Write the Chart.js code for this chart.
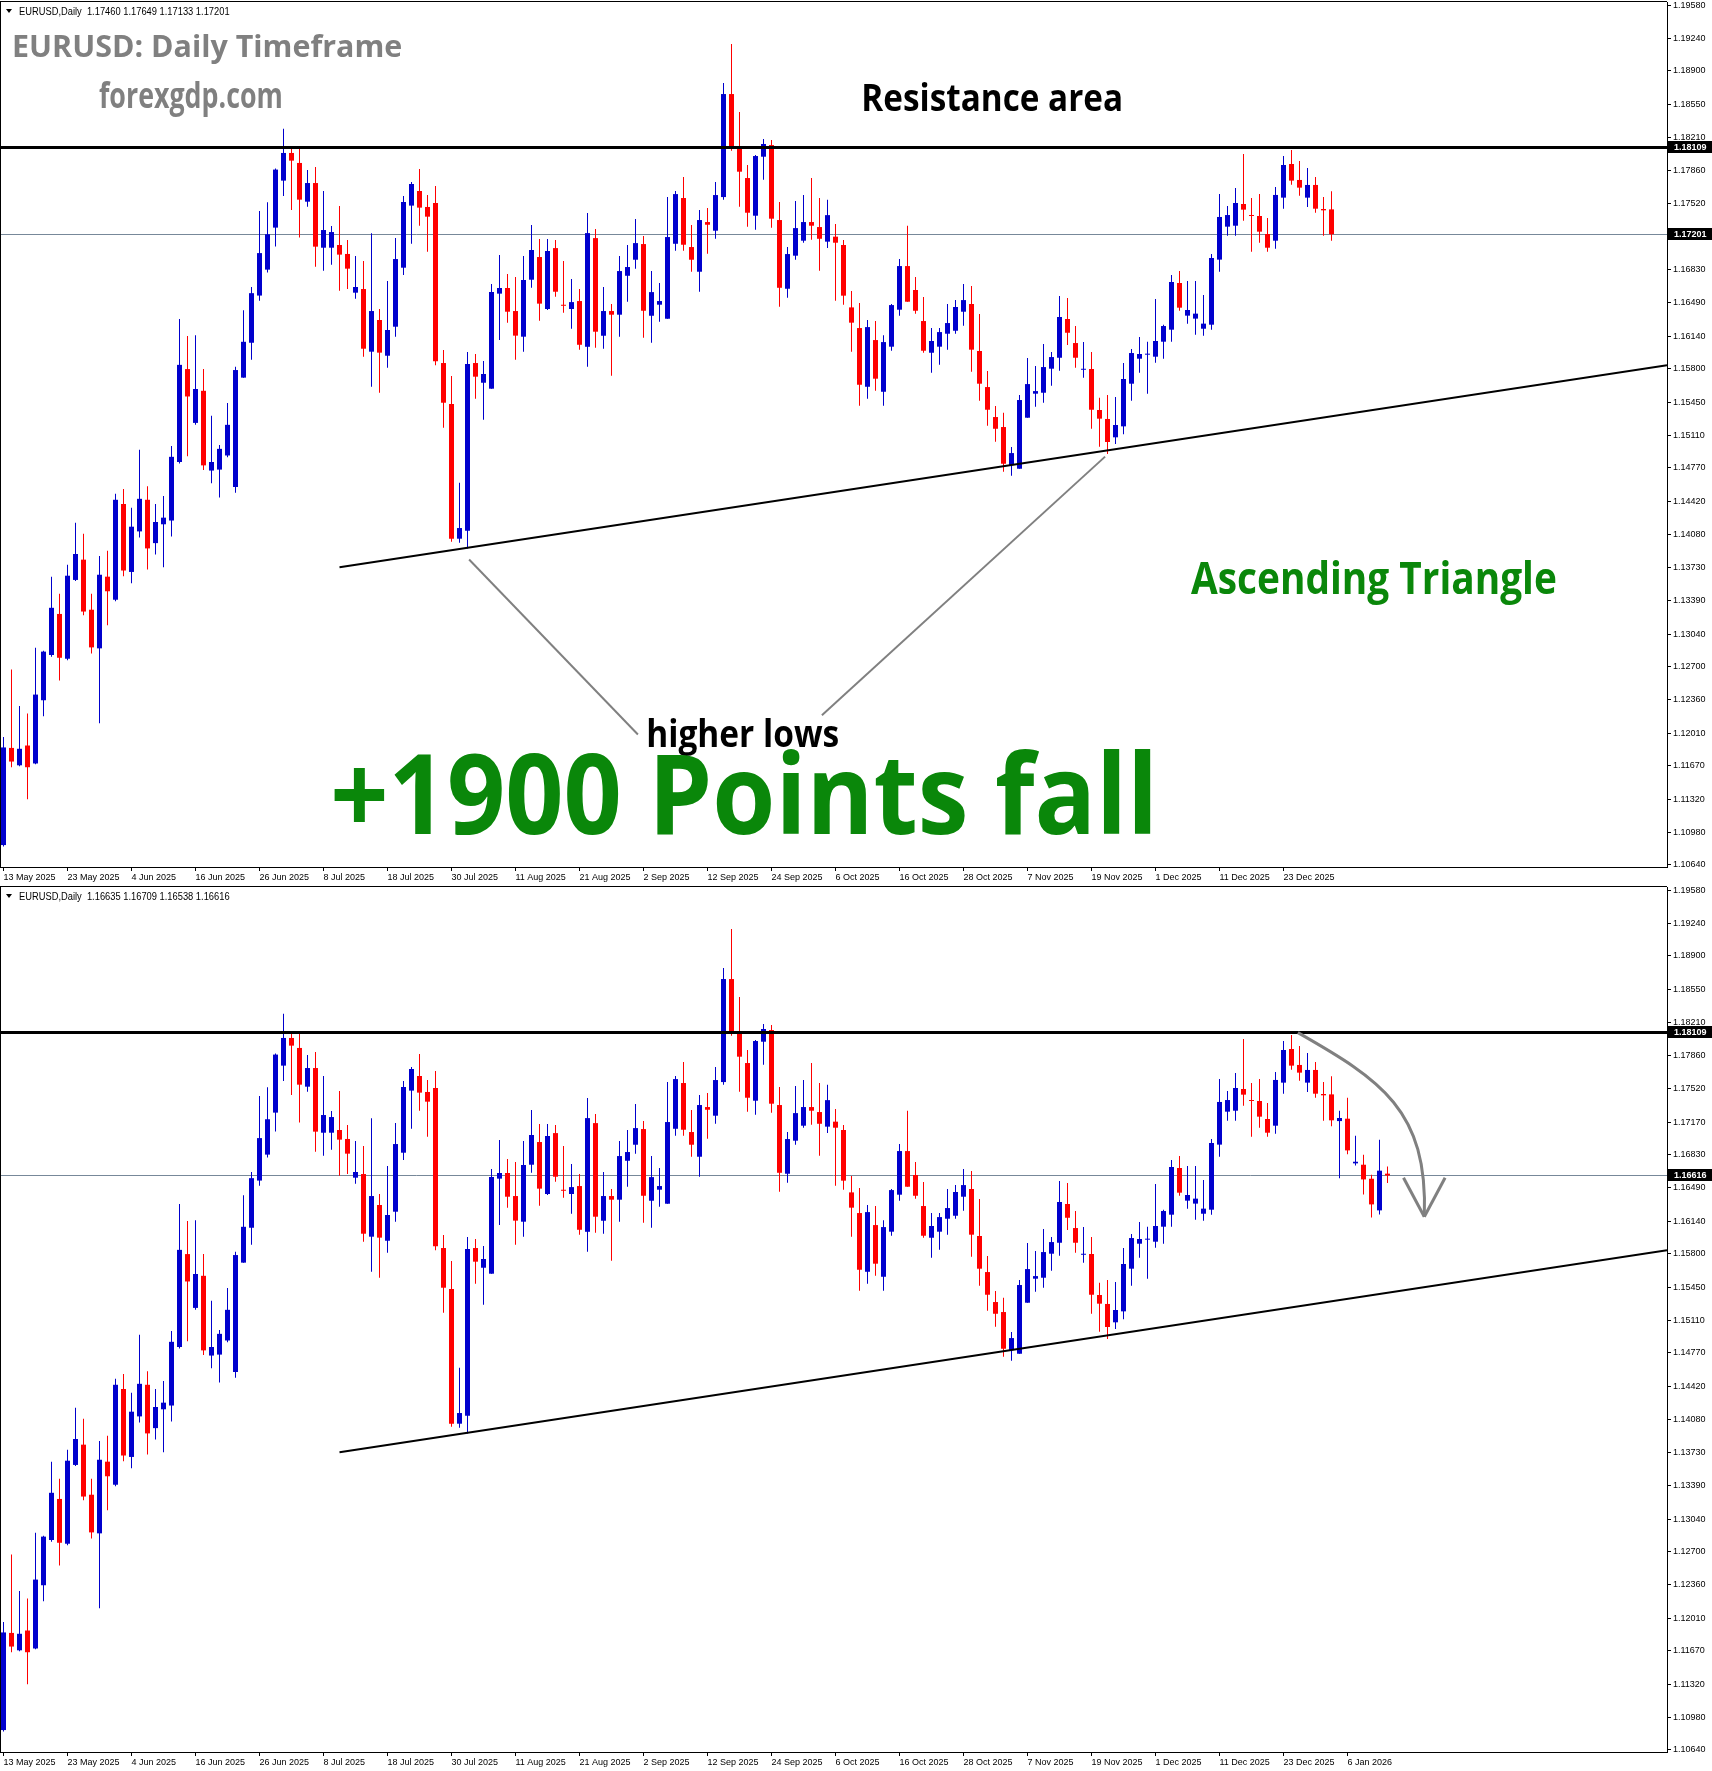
<!DOCTYPE html>
<html lang="en">
<head>
<meta charset="utf-8">
<title>EURUSD Daily – Ascending Triangle</title>
<script src="https://cdn.jsdelivr.net/npm/chart.js@4.4.1/dist/chart.umd.min.js"></script>
<style>
  html, body { margin: 0; padding: 0; background: #fff; }
  #page { position: relative; width: 1712px; height: 1771px; overflow: hidden; background: #fff; }
  #page canvas { position: absolute; left: 0; }
  #topCanvas { top: 0; }
  #botCanvas { top: 885px; }
</style>
</head>
<body>
<div id="page">
  <canvas id="topCanvas" width="1712" height="885"></canvas>
  <canvas id="botCanvas" width="1712" height="886"></canvas>
</div>
<script>
/* global Chart */

// ---------- DATA ----------
// date printed under every 8th daily bar (MT4 style), bar 0 = 13 May 2025
const TICK_LABELS = ['13 May 2025', '23 May 2025', '4 Jun 2025', '16 Jun 2025', '26 Jun 2025',
  '8 Jul 2025', '18 Jul 2025', '30 Jul 2025', '11 Aug 2025', '21 Aug 2025', '2 Sep 2025',
  '12 Sep 2025', '24 Sep 2025', '6 Oct 2025', '16 Oct 2025', '28 Oct 2025', '7 Nov 2025',
  '19 Nov 2025', '1 Dec 2025', '11 Dec 2025', '23 Dec 2025', '6 Jan 2026'];
const LABEL_STEP = 8;

const PRICE_TICKS = [1.19580, 1.19240, 1.18900, 1.18550, 1.18210, 1.17860, 1.17520, 1.17170,
  1.16830, 1.16490, 1.16140, 1.15800, 1.15450, 1.15110, 1.14770, 1.14420, 1.14080, 1.13730,
  1.13390, 1.13040, 1.12700, 1.12360, 1.12010, 1.11670, 1.11320, 1.10980, 1.10640];

// daily bars as of the second screenshot (bars 0 … 173)
const OPEN = [
  1.10845, 1.11856, 1.11675, 1.11881, 1.11694, 1.12352, 1.12823, 1.13250, 1.12784, 1.13604,
  1.13815, 1.13294, 1.12892, 1.13638, 1.13398, 1.14394, 1.13687, 1.14109, 1.14438, 1.13987,
  1.14183, 1.14222, 1.14831, 1.15798, 1.15238, 1.15572, 1.14742, 1.14752, 1.14899, 1.14571,
  1.15709, 1.16072, 1.16563, 1.16833, 1.17270, 1.17759, 1.18047, 1.17943, 1.17540, 1.17734,
  1.17061, 1.17061, 1.17089, 1.16996, 1.16593, 1.16631, 1.15979, 1.16309, 1.15937, 1.16239,
  1.16853, 1.17499, 1.17651, 1.17485, 1.17526, 1.15861, 1.15434, 1.14033, 1.14116, 1.15861,
  1.15656, 1.15594, 1.16583, 1.16642, 1.16402, 1.16135, 1.16728, 1.16964, 1.16423, 1.17057,
  1.16464, 1.16423, 1.16506, 1.16030, 1.17161, 1.16145, 1.16402, 1.16364, 1.16769, 1.16936,
  1.17099, 1.16353, 1.16468, 1.16322, 1.17102, 1.17578, 1.17068, 1.16811, 1.17328, 1.17238,
  1.17588, 1.18660, 1.18088, 1.17786, 1.17394, 1.18008, 1.18129, 1.17349, 1.16634, 1.16978,
  1.17134, 1.17328, 1.17276, 1.17124, 1.17176, 1.17089, 1.16440, 1.16225, 1.15614, 1.16100,
  1.15562, 1.16031, 1.16416, 1.16870, 1.16621, 1.16298, 1.15968, 1.16031, 1.16166, 1.16197,
  1.16395, 1.16475, 1.15986, 1.15611, 1.15299, 1.15195, 1.14799, 1.14761, 1.15292, 1.15542,
  1.15552, 1.15802, 1.15916, 1.16319, 1.16069, 1.15791, 1.15799, 1.15372, 1.15279, 1.15088,
  1.15202, 1.15646, 1.15906, 1.15948, 1.15927, 1.16083, 1.16208, 1.16694, 1.16354, 1.16323,
  1.16218, 1.16260, 1.16937, 1.17280, 1.17290, 1.17516, 1.17401, 1.17391, 1.17204, 1.17134,
  1.17582, 1.17932, 1.17766, 1.17582, 1.17714, 1.17464, 1.17460, 1.17182, 1.17207, 1.16742,
  1.16728, 1.16582, 1.16253, 1.16635];
const HIGH = [
  1.11969, 1.12671, 1.12293, 1.12215, 1.12897, 1.12868, 1.13638, 1.13461, 1.13761, 1.14198,
  1.14085, 1.13461, 1.13854, 1.13908, 1.14502, 1.14551, 1.14355, 1.14958, 1.14580, 1.14394,
  1.14477, 1.14998, 1.16318, 1.16141, 1.16151, 1.15798, 1.15312, 1.15007, 1.15444, 1.15822,
  1.16411, 1.16652, 1.17442, 1.17535, 1.17884, 1.18300, 1.18095, 1.18095, 1.17870, 1.17901,
  1.17651, 1.17287, 1.17495, 1.17141, 1.16975, 1.16923, 1.17211, 1.16423, 1.16715, 1.17162,
  1.17599, 1.17745, 1.17880, 1.17610, 1.17703, 1.15996, 1.15726, 1.14616, 1.15976, 1.15955,
  1.15882, 1.16683, 1.16985, 1.16787, 1.16756, 1.16975, 1.17297, 1.17152, 1.17152, 1.17141,
  1.16922, 1.16735, 1.16631, 1.17422, 1.17255, 1.16651, 1.16475, 1.16974, 1.17089, 1.17359,
  1.17182, 1.16818, 1.16693, 1.17588, 1.17651, 1.17796, 1.17297, 1.17453, 1.17474, 1.17744,
  1.18774, 1.19180, 1.18473, 1.17921, 1.18025, 1.18192, 1.18181, 1.17536, 1.17068, 1.17546,
  1.17609, 1.17786, 1.17578, 1.17560, 1.17307, 1.17141, 1.16610, 1.16485, 1.16308, 1.16298,
  1.16149, 1.16475, 1.16943, 1.17290, 1.16756, 1.16548, 1.16225, 1.16225, 1.16475, 1.16516,
  1.16683, 1.16662, 1.16371, 1.15778, 1.15413, 1.15344, 1.14987, 1.15528, 1.15913, 1.15830,
  1.16059, 1.15975, 1.16558, 1.16537, 1.16246, 1.16079, 1.15976, 1.15500, 1.15528, 1.15507,
  1.15861, 1.16007, 1.16132, 1.16083, 1.16527, 1.16260, 1.16777, 1.16819, 1.16715, 1.16715,
  1.16569, 1.16996, 1.17620, 1.17495, 1.17682, 1.18036, 1.17578, 1.17620, 1.17370, 1.17693,
  1.18015, 1.18078, 1.17963, 1.17891, 1.17797, 1.17589, 1.17649, 1.17290, 1.17425, 1.17030,
  1.16832, 1.16624, 1.16988, 1.16709];
const LOW = [
  1.10831, 1.11655, 1.11665, 1.11321, 1.11685, 1.12185, 1.12804, 1.12558, 1.12769, 1.13594,
  1.13236, 1.12838, 1.12112, 1.13133, 1.13383, 1.13643, 1.13569, 1.14045, 1.13712, 1.13869,
  1.13736, 1.14055, 1.14816, 1.14890, 1.15218, 1.14747, 1.14610, 1.14463, 1.14880, 1.14512,
  1.15709, 1.15896, 1.16509, 1.16804, 1.17074, 1.17599, 1.17453, 1.17166, 1.17488, 1.16864,
  1.16822, 1.16885, 1.16614, 1.16631, 1.16531, 1.15927, 1.15615, 1.15552, 1.15813, 1.16135,
  1.16777, 1.17103, 1.17290, 1.17020, 1.15837, 1.15188, 1.14002, 1.13991, 1.13932, 1.15490,
  1.15271, 1.15594, 1.16101, 1.16281, 1.15896, 1.15979, 1.16645, 1.16302, 1.16413, 1.16551,
  1.16384, 1.16218, 1.15999, 1.15822, 1.16020, 1.16010, 1.15729, 1.16135, 1.16499, 1.16842,
  1.16124, 1.16072, 1.16291, 1.16322, 1.17030, 1.17030, 1.16811, 1.16603, 1.16998, 1.17154,
  1.17560, 1.18070, 1.17487, 1.17279, 1.17248, 1.17768, 1.17269, 1.16447, 1.16540, 1.16936,
  1.17113, 1.17144, 1.16821, 1.17058, 1.16510, 1.16468, 1.15979, 1.15417, 1.15490, 1.15573,
  1.15417, 1.15989, 1.16353, 1.16499, 1.16374, 1.15968, 1.15760, 1.15843, 1.16000, 1.16166,
  1.16249, 1.15771, 1.15469, 1.15209, 1.15042, 1.14730, 1.14688, 1.14761, 1.15292, 1.15406,
  1.15448, 1.15625, 1.15781, 1.16048, 1.15812, 1.15708, 1.15178, 1.14990, 1.14914, 1.15018,
  1.15119, 1.15469, 1.15761, 1.15542, 1.15865, 1.15906, 1.16083, 1.16406, 1.16271, 1.16156,
  1.16146, 1.16208, 1.16812, 1.17186, 1.17186, 1.17342, 1.17020, 1.17113, 1.17020, 1.17051,
  1.17467, 1.17717, 1.17603, 1.17485, 1.17426, 1.17186, 1.17127, 1.16586, 1.16836, 1.16721,
  1.16419, 1.16180, 1.16211, 1.16538];
const CLOSE = [
  1.11861, 1.11714, 1.11847, 1.11655, 1.12411, 1.12858, 1.13314, 1.12794, 1.13648, 1.13874,
  1.13275, 1.12902, 1.13658, 1.13486, 1.14438, 1.13702, 1.14158, 1.14448, 1.13932, 1.14207,
  1.14252, 1.14885, 1.15842, 1.15513, 1.15591, 1.14796, 1.14831, 1.14968, 1.15218, 1.15788,
  1.16082, 1.16588, 1.17005, 1.17201, 1.17874, 1.18047, 1.17967, 1.17561, 1.17734, 1.17072,
  1.17245, 1.17224, 1.16989, 1.16843, 1.16652, 1.16010, 1.16402, 1.15969, 1.16205, 1.16943,
  1.17537, 1.17724, 1.17478, 1.17384, 1.15879, 1.15448, 1.14033, 1.14144, 1.15851, 1.15719,
  1.15747, 1.16600, 1.16642, 1.16395, 1.16146, 1.16725, 1.17037, 1.16479, 1.17027, 1.16603,
  1.16457, 1.16495, 1.16051, 1.17213, 1.16187, 1.16402, 1.16364, 1.16818, 1.16860, 1.17109,
  1.16405, 1.16599, 1.16506, 1.17172, 1.17619, 1.17092, 1.16936, 1.17349, 1.17300, 1.17609,
  1.18660, 1.18119, 1.17852, 1.17425, 1.18015, 1.18140, 1.17363, 1.16644, 1.16995, 1.17265,
  1.17328, 1.17290, 1.17154, 1.17400, 1.17113, 1.16562, 1.16281, 1.15635, 1.16235, 1.15698,
  1.16079, 1.16464, 1.16870, 1.16499, 1.16405, 1.15989, 1.16090, 1.16183, 1.16277, 1.16444,
  1.16516, 1.16000, 1.15646, 1.15375, 1.15177, 1.14813, 1.14924, 1.15476, 1.15642, 1.15569,
  1.15819, 1.15923, 1.16340, 1.16176, 1.15916, 1.15798, 1.15375, 1.15282, 1.15039, 1.15216,
  1.15695, 1.15965, 1.15955, 1.15955, 1.16090, 1.16246, 1.16704, 1.16437, 1.16413, 1.16375,
  1.16271, 1.16954, 1.17381, 1.17401, 1.17526, 1.17457, 1.17391, 1.17228, 1.17061, 1.17610,
  1.17922, 1.17759, 1.17686, 1.17714, 1.17467, 1.17450, 1.17190, 1.17214, 1.16877, 1.16759,
  1.16575, 1.16315, 1.16666, 1.16616];

// first screenshot ends at bar 166, which was still forming then (O H L C)
const TOP_BAR_COUNT = 166;
const TOP_LAST_OHLC = [1.17460, 1.17649, 1.17133, 1.17201];

// drawn objects, anchored as [bar, price]
const RESISTANCE = 1.18109;
const TREND_A = [42, 1.13735];
const TREND_B = [125, 1.14787];
const HL_LEFT  = [[58.2, 1.13817], [79.3, 1.11996]];
const HL_RIGHT = [[102.3, 1.12196], [137.7, 1.14887]];
const FALL_CURVE = [[161.8, 1.18102], [172.1, 1.17613], [178.1, 1.17300], [177.6, 1.16187]];
const FALL_WINGS = [[175.0, 1.16593], [180.2, 1.16593]];

// ---------- STYLE ----------
const BULL = '#0000cd';
const BEAR = '#ff0000';
const BID_COLOR = '#778899';
const GREEN = '#0a870a';
const TEXT_FONT = '"Open Sans", "DejaVu Sans", sans-serif';
const AXIS_FONT = { family: '"Liberation Sans", Arial, sans-serif', size: 9 };

// 8 px per bar, bar 0 centred at x = 3.5 ; chart area 0 … 1667
const X_MIN = -3.5 / 8;
const X_MAX = X_MIN + 1667 / 8;
// 9610 px per 1.0 price, 1.18109 sits at y = 147 ; chart area 2 … 867
const Y_MAX = 1.18109 + 145 / 9610;
const Y_MIN = Y_MAX - 865 / 9610;

// ---------- helpers ----------
const pt = (chart, [i, p]) => [chart.scales.x.getPixelForValue(i), chart.scales.y.getPixelForValue(p)];

function strokeLine (ctx, a, b, width, color) {
  ctx.save();
  ctx.strokeStyle = color;
  ctx.lineWidth = width;
  ctx.beginPath();
  ctx.moveTo(a[0], a[1]);
  ctx.lineTo(b[0], b[1]);
  ctx.stroke();
  ctx.restore();
}

// text whose ink spans box.left … box.right (font size gives height)
function inkText (ctx, text, box, size, weight, color, family = TEXT_FONT) {
  ctx.save();
  ctx.font = `${weight} ${size}px ${family}`;
  const m = ctx.measureText(text);
  const ink = m.actualBoundingBoxLeft + m.actualBoundingBoxRight;
  ctx.translate(box.left, box.baseline);
  ctx.scale((box.right - box.left) / ink, 1);
  ctx.fillStyle = color;
  ctx.textBaseline = 'alphabetic';
  ctx.fillText(text, m.actualBoundingBoxLeft, 0);
  ctx.restore();
}

function priceTag (chart, price) {
  const { ctx, chartArea: a } = chart;
  const y = Math.round(chart.scales.y.getPixelForValue(price));
  ctx.save();
  ctx.fillStyle = '#000';
  ctx.fillRect(a.right + 1, y - 6, chart.width - a.right - 1, 12);
  ctx.fillStyle = '#fff';
  ctx.font = `bold 9px ${AXIS_FONT.family}`;
  ctx.textBaseline = 'middle';
  ctx.fillText(price.toFixed(5), a.right + 7, y + 0.5);
  ctx.restore();
}

function header (ctx, ohlc) {
  ctx.save();
  ctx.fillStyle = '#000';
  ctx.beginPath();
  ctx.moveTo(6, 9); ctx.lineTo(12, 9); ctx.lineTo(9, 13);
  ctx.closePath();
  ctx.fill();
  ctx.restore();
  const txt = 'EURUSD,Daily  ' + ohlc.map(v => v.toFixed(5)).join(' ');
  inkText(ctx, txt, { left: 19, right: 230, baseline: 15 }, 10, 'normal', '#000', AXIS_FONT.family);
}

// ---------- overlay plugin (lines, labels, texts) ----------
function overlay (cfg) {
  return {
    id: 'mt4overlay',
    beforeDatasetsDraw (chart) {
      const { ctx, chartArea: a } = chart;
      const y = Math.round(chart.scales.y.getPixelForValue(cfg.bid)) + 0.5;
      strokeLine(ctx, [a.left, y], [a.right, y], 1, BID_COLOR);
    },
    afterDatasetsDraw (chart) {
      const { ctx, chartArea: a } = chart;
      ctx.save();
      ctx.beginPath();
      ctx.rect(a.left, a.top, a.right - a.left, a.bottom - a.top);
      ctx.clip();

      /* resistance */
      const ry = Math.floor(chart.scales.y.getPixelForValue(RESISTANCE)) + 0.5;
      strokeLine(ctx, [a.left, ry], [a.right, ry], 3, '#000');

      /* ascending trend ray */
      const slope = (TREND_B[1] - TREND_A[1]) / (TREND_B[0] - TREND_A[0]);
      const end = [X_MAX, TREND_A[1] + slope * (X_MAX - TREND_A[0])];
      strokeLine(ctx, pt(chart, TREND_A), pt(chart, end), 2, '#000');

      if (cfg.extras) cfg.extras(chart);
      ctx.restore();
    },
    afterDraw (chart) {
      const { ctx, chartArea: a } = chart;
      ctx.save();
      ctx.fillStyle = '#000';
      ctx.fillRect(0, a.top - 1, a.right, 1);
      ctx.fillRect(0, a.top - 1, 1, a.bottom - a.top + 1);
      ctx.restore();
      header(ctx, cfg.ohlc);
      cfg.tags.forEach(p => priceTag(chart, p));
      if (cfg.texts) cfg.texts(chart);
    }
  };
}

function buildChart (canvasId, bars, tickLabels, cfg) {
  const colors = bars.o.map((o, i) => (bars.c[i] >= o ? BULL : BEAR));
  const wicks  = bars.o.map((_, i) => ({ x: i, y: [bars.l[i], bars.h[i]] }));
  const bodies = bars.o.map((o, i) => ({ x: i, y: [o, bars.c[i]] }));

  return new Chart(document.getElementById(canvasId), {
    type: 'bar',
    data: {
      datasets: [
        { data: bodies, backgroundColor: colors, borderWidth: 0, barThickness: 5,
          grouped: false, order: 1, minBarLength: 1, inflateAmount: 0 },
        { data: wicks, backgroundColor: colors, borderWidth: 0, barThickness: 1,
          grouped: false, order: 2, minBarLength: 1, inflateAmount: 0 }
      ]
    },
    options: {
      responsive: false,
      animation: false,
      devicePixelRatio: 1,
      events: [],
      layout: { padding: { top: 2, left: 0, right: 0, bottom: 0 } },
      plugins: { legend: { display: false }, tooltip: { enabled: false } },
      scales: {
        x: {
          type: 'linear', min: X_MIN, max: X_MAX, offset: false,
          grid: { display: true, offset: false, drawOnChartArea: false, drawTicks: true, tickLength: 4, color: '#000' },
          border: { display: true, color: '#000' },
          ticks: {
            autoSkip: false, maxRotation: 0, minRotation: 0, align: 'start', padding: 1,
            color: '#000', font: AXIS_FONT, callback: (v, i) => tickLabels[i]
          },
          afterBuildTicks: s => { s.ticks = tickLabels.map((_, k) => ({ value: k * LABEL_STEP })); },
          afterFit: s => { s.height = cfg.axisHeight; s.paddingLeft = 0; s.paddingRight = 0; }
        },
        y: {
          type: 'linear', position: 'right', min: Y_MIN, max: Y_MAX, beginAtZero: false,
          grid: { display: true, drawOnChartArea: false, drawTicks: true, tickLength: 4, color: '#000' },
          border: { display: true, color: '#000' },
          ticks: { autoSkip: false, padding: 2, color: '#000', font: AXIS_FONT, callback: v => v.toFixed(5) },
          afterBuildTicks: s => { s.ticks = PRICE_TICKS.map(v => ({ value: v })); },
          afterFit: s => { s.width = 45; s.paddingTop = 0; s.paddingBottom = 0; }
        }
      }
    },
    plugins: [overlay(cfg)]
  });
}

// ---------- MAIN ----------
const topBars = {
  o: OPEN.slice(0, TOP_BAR_COUNT).concat(TOP_LAST_OHLC[0]),
  h: HIGH.slice(0, TOP_BAR_COUNT).concat(TOP_LAST_OHLC[1]),
  l: LOW.slice(0, TOP_BAR_COUNT).concat(TOP_LAST_OHLC[2]),
  c: CLOSE.slice(0, TOP_BAR_COUNT).concat(TOP_LAST_OHLC[3])
};
const botBars = { o: OPEN, h: HIGH, l: LOW, c: CLOSE };
const lastIdx = OPEN.length - 1;

buildChart('topCanvas', topBars, TICK_LABELS.slice(0, 21), {
  axisHeight: 18,
  bid: TOP_LAST_OHLC[3],
  ohlc: TOP_LAST_OHLC,
  tags: [RESISTANCE, TOP_LAST_OHLC[3]],
  extras (chart) {
    const { ctx } = chart;
    strokeLine(ctx, pt(chart, HL_LEFT[0]), pt(chart, HL_LEFT[1]), 2, '#808080');
    strokeLine(ctx, pt(chart, HL_RIGHT[0]), pt(chart, HL_RIGHT[1]), 2, '#808080');
  },
  texts (chart) {
    const { ctx } = chart;
    inkText(ctx, 'EURUSD: Daily Timeframe', { left: 14, right: 401, baseline: 57 }, 31, 'bold', '#808080');
    inkText(ctx, 'forexgdp.com', { left: 99, right: 281, baseline: 108 }, 35, 'bold', '#808080');
    inkText(ctx, 'Resistance area', { left: 864, right: 1121, baseline: 110.5 }, 37, 'bold', '#000');
    inkText(ctx, 'Ascending Triangle', { left: 1191, right: 1556, baseline: 594 }, 44, 'bold', GREEN);
    inkText(ctx, 'higher lows', { left: 648, right: 838, baseline: 747 }, 37, 'bold', '#000');
    inkText(ctx, '+1900 Points fall', { left: 334, right: 1151, baseline: 834 }, 111, 'bold', GREEN);
  }
});

buildChart('botCanvas', botBars, TICK_LABELS, {
  axisHeight: 19,
  bid: CLOSE[lastIdx],
  ohlc: [OPEN[lastIdx], HIGH[lastIdx], LOW[lastIdx], CLOSE[lastIdx]],
  tags: [RESISTANCE, CLOSE[lastIdx]],
  extras (chart) {
    const { ctx } = chart;
    const [p0, p1, p2, p3] = FALL_CURVE.map(p => pt(chart, p));
    ctx.save();
    ctx.strokeStyle = '#808080';
    ctx.lineWidth = 3;
    ctx.beginPath();
    ctx.moveTo(p0[0], p0[1]);
    ctx.bezierCurveTo(p1[0], p1[1], p2[0], p2[1], p3[0], p3[1]);
    ctx.stroke();
    ctx.restore();
    FALL_WINGS.forEach(w => strokeLine(ctx, pt(chart, w), p3, 3, '#808080'));
  }
});
</script>
</body>
</html>
